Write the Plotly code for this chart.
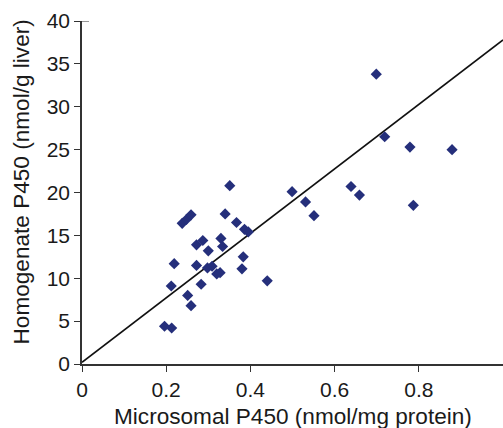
import plotly.graph_objects as go

# Microsomal P450 (nmol/mg protein)
microsomal = [0.196, 0.213, 0.212, 0.219, 0.238, 0.248, 0.259, 0.251, 0.259, 0.272,
              0.272, 0.283, 0.287, 0.300, 0.298, 0.309, 0.320, 0.328, 0.330, 0.334,
              0.340, 0.351, 0.367, 0.383, 0.380, 0.386, 0.395, 0.440, 0.499, 0.531,
              0.551, 0.639, 0.659, 0.699, 0.719, 0.779, 0.787, 0.879]
# Homogenate P450 (nmol/g liver)
homogenate = [4.4, 4.2, 9.1, 11.7, 16.4, 16.85, 17.4, 8.0, 6.8, 13.9,
              11.5, 9.3, 14.4, 13.2, 11.2, 11.4, 10.5, 10.65, 14.65, 13.7,
              17.5, 20.8, 16.5, 12.5, 11.1, 15.7, 15.4, 9.7, 20.1, 18.9,
              17.3, 20.7, 19.7, 33.8, 26.5, 25.3, 18.5, 25.0]

# fitted line endpoints
line_x = [0.0, 1.0]
line_y = [0.2, 37.8]

x_ticks = [0, 0.2, 0.4, 0.6, 0.8, 1]
x_tick_labels = ["0", "0.2", "0.4", "0.6", "0.8", "1"]
y_ticks = [0, 5, 10, 15, 20, 25, 30, 35, 40]

fig = go.Figure()
fig.add_trace(go.Scatter(x=line_x, y=line_y, mode="lines",
                         line=dict(color="#111111", width=1.6),
                         showlegend=False, hoverinfo="skip", cliponaxis=False))
fig.add_trace(go.Scatter(x=microsomal, y=homogenate, mode="markers",
                         marker=dict(symbol="diamond", size=8.6, color="#252F7B",
                                     line=dict(width=0)),
                         showlegend=False, cliponaxis=False))

font_family = "Liberation Sans, Arial, sans-serif"

fig.update_layout(
    width=503, height=428,
    margin=dict(l=82, r=0, t=21, b=64, autoexpand=False),
    paper_bgcolor="white", plot_bgcolor="white",
    font=dict(family=font_family, size=21, color="#1a1a1a"),
    xaxis=dict(range=[0, 1], tickvals=x_ticks, ticktext=x_tick_labels,
               automargin=False,
               showgrid=False, zeroline=False, showline=True,
               linecolor="#333333", linewidth=1.5,
               ticks="outside", ticklen=6, tickwidth=1, tickcolor="#333333",
               tickfont=dict(size=21)),
    yaxis=dict(range=[0, 40], tickvals=y_ticks,
               automargin=False,
               showgrid=False, zeroline=False, showline=True,
               linecolor="#333333", linewidth=1.5,
               ticks="outside", ticklen=6, tickwidth=1, tickcolor="#333333",
               tickfont=dict(size=21)),
    annotations=[
        dict(text="Microsomal P450 (nmol/mg protein)", xref="paper", yref="paper",
             x=0.5, y=0, yshift=-39, xanchor="center", yanchor="top",
             borderpad=0,
             showarrow=False, font=dict(size=22.6, family=font_family, color="#1a1a1a")),
        dict(text="Homogenate P450 (nmol/g liver)", xref="paper", yref="paper",
             x=0, xshift=-61, y=0.5, yshift=10, xanchor="center", yanchor="middle",
             textangle=-90, showarrow=False,
             font=dict(size=22.6, family=font_family, color="#1a1a1a")),
    ],
    shapes=[
        dict(type="line", xref="paper", yref="y", xsizemode="pixel",
             xanchor=0, x0=-6, x1=7, y0=40, y1=40,
             line=dict(color="#333333", width=1)),
    ],
)

fig.write_html(
    "out.html",
    config={"displayModeBar": False},
    post_script="document.body.style.margin='0';document.body.style.overflow='hidden';",
)
